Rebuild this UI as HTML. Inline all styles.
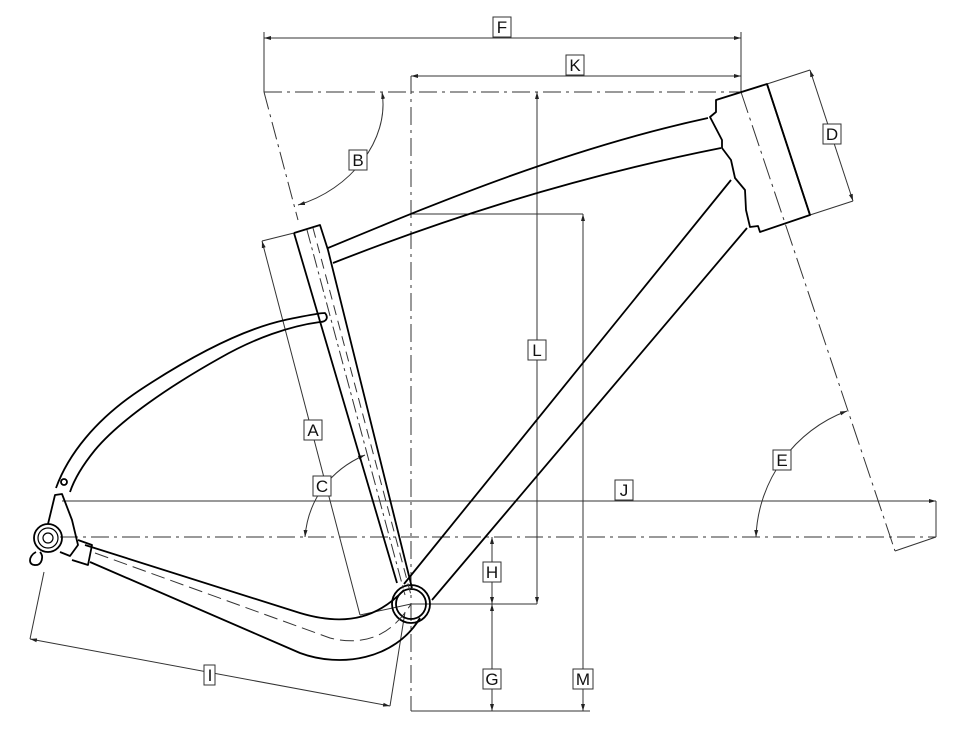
<!DOCTYPE html>
<html><head><meta charset="utf-8"><style>
html,body{margin:0;padding:0;background:#fff;}
svg{display:block;}
text{font-family:"Liberation Sans",sans-serif;font-size:17px;fill:#111;}
</style></head><body>
<svg width="960" height="742" viewBox="0 0 960 742" xmlns="http://www.w3.org/2000/svg">
<defs>
<marker id="ar" markerWidth="8" markerHeight="6" refX="7" refY="3" orient="auto-start-reverse" markerUnits="userSpaceOnUse"><path d="M0,1 L7,3 L0,5 z" fill="#222"/></marker>
</defs>
<g fill="none" stroke="#333" stroke-width="1">
<line x1="264" y1="38" x2="741" y2="38" marker-start="url(#ar)" marker-end="url(#ar)"/>
<line x1="264" y1="32" x2="264" y2="92"/>
<line x1="741" y1="32" x2="741" y2="92"/>
<line x1="411" y1="76" x2="741" y2="76" marker-start="url(#ar)" marker-end="url(#ar)"/>
<line x1="264" y1="92" x2="741" y2="92" stroke-dasharray="18,5,3,5"/>
<line x1="264" y1="92" x2="298" y2="220" stroke-dasharray="18,5,3,5"/>
<line x1="411" y1="76" x2="411" y2="711" stroke-dasharray="18,5,3,5"/>
<line x1="537" y1="92" x2="537" y2="604" marker-start="url(#ar)" marker-end="url(#ar)"/>
<line x1="411" y1="604" x2="537" y2="604"/>
<line x1="411" y1="214" x2="583" y2="214"/>
<line x1="583" y1="214" x2="583" y2="711" marker-start="url(#ar)" marker-end="url(#ar)"/>
<line x1="492" y1="537" x2="492" y2="604" marker-start="url(#ar)" marker-end="url(#ar)"/>
<line x1="492" y1="604" x2="492" y2="711" marker-start="url(#ar)" marker-end="url(#ar)"/>
<line x1="411" y1="711" x2="590" y2="711"/>
<line x1="62" y1="501" x2="936" y2="501" marker-end="url(#ar)"/>
<line x1="936" y1="501" x2="936" y2="537"/>
<line x1="895" y1="551" x2="936" y2="537"/>
<line x1="60" y1="537" x2="936" y2="537" stroke-dasharray="18,5,3,5"/>
<line x1="741" y1="92" x2="895" y2="551" stroke-dasharray="22,5,3,5"/>
<line x1="767" y1="84" x2="810" y2="70"/>
<line x1="810" y1="215" x2="853" y2="201"/>
<line x1="810" y1="70" x2="853" y2="201" marker-start="url(#ar)" marker-end="url(#ar)"/>
<line x1="262" y1="241" x2="294" y2="233"/>
<line x1="262" y1="241" x2="360" y2="615" marker-start="url(#ar)"/>
<line x1="360" y1="615" x2="411" y2="604"/>
<line x1="44" y1="572" x2="30" y2="639"/>
<line x1="405" y1="612" x2="390" y2="706"/>
<line x1="30" y1="639" x2="390" y2="706" marker-start="url(#ar)" marker-end="url(#ar)"/>
<path d="M382,92 C390,140 350,190 298,205" marker-start="url(#ar)" marker-end="url(#ar)"/>
<path d="M305,537 C308,500 330,470 365,455" marker-start="url(#ar)" marker-end="url(#ar)"/>
<path d="M756,537 C758,480 795,430 847,411" marker-start="url(#ar)" marker-end="url(#ar)"/>
</g>

<g fill="none" stroke="#000" stroke-width="1.8" stroke-linejoin="round">
<path d="M716,100 L767,84 L810,215 L760,232 L758,226 L750,227 L746,210 L745,190 L735,178 L731,160 L722,148 L722,140 L710,117 L716,112 Z"/>
<line x1="767" y1="84" x2="810" y2="215"/>
<path d="M328,248 C420,210 560,150 708,118"/>
<path d="M333,263 C430,225 560,180 721,148"/>
<path d="M731,180 L404,584"/>
<path d="M747,228 L432,600"/>
<path d="M294,233 L320,225 L328,250 L412,588"/>
<path d="M294,233 L397,583"/>
<!-- seat stays -->
<path d="M56,488 C68,455 95,420 140,390 C190,357 240,330 285,320 C305,316 318,313 325,313 C329,318 326,322 320,322 C290,326 255,338 220,358 C170,386 120,420 95,450 C82,466 74,480 70,492"/>
<path d="M85,545 L300,613 C350,628 380,615 404,590"/>
<path d="M90,562 L300,653 C340,668 395,660 420,618"/>
<circle cx="411" cy="604" r="19"/>
<circle cx="411" cy="604" r="15"/>
<circle cx="48" cy="538" r="14"/>
<circle cx="48" cy="538" r="10" stroke-width="1.2"/>
<circle cx="48" cy="538" r="5" stroke-width="1.2"/>
<path d="M48,524 L55,495 L62,494 L72,520 L78,545 L70,556 L60,552"/>
<path d="M36,552 C28,556 28,566 36,565 C42,565 44,556 40,552"/>
<path d="M78,540 L92,545 L88,565 L72,560"/>
<circle cx="64" cy="482" r="3"/>
</g>
<g fill="none" stroke="#333" stroke-width="1" stroke-dasharray="14,6">
<path d="M95,553 L330,638 C370,648 395,630 411,604"/>
<line x1="307" y1="230" x2="405" y2="595" stroke-dasharray="14,4,3,4"/>
<line x1="313" y1="228" x2="411" y2="595" stroke-dasharray="10,6"/>
</g>

<g stroke="#333" stroke-width="1" fill="#fff">
<rect x="493" y="17" width="18" height="20"/>
<rect x="566" y="55" width="18" height="20"/>
<rect x="349" y="150" width="18" height="20"/>
<rect x="823" y="124" width="18" height="20"/>
<rect x="304" y="420" width="18" height="20"/>
<rect x="313" y="476" width="18" height="20"/>
<rect x="773" y="450" width="18" height="20"/>
<rect x="615" y="480" width="18" height="20"/>
<rect x="528" y="340" width="18" height="20"/>
<rect x="483" y="562" width="18" height="20"/>
<rect x="483" y="669" width="18" height="20"/>
<rect x="573" y="669" width="20" height="20"/>
<rect x="204" y="665" width="11" height="20"/>
</g>
<g text-anchor="middle">
<text x="502" y="33">F</text>
<text x="575" y="71">K</text>
<text x="358" y="166">B</text>
<text x="832" y="140">D</text>
<text x="313" y="436">A</text>
<text x="322" y="492">C</text>
<text x="782" y="466">E</text>
<text x="624" y="496">J</text>
<text x="537" y="356">L</text>
<text x="492" y="578">H</text>
<text x="492" y="685">G</text>
<text x="583" y="685">M</text>
<text x="210" y="681">I</text>
</g>
</svg>
</body></html>
